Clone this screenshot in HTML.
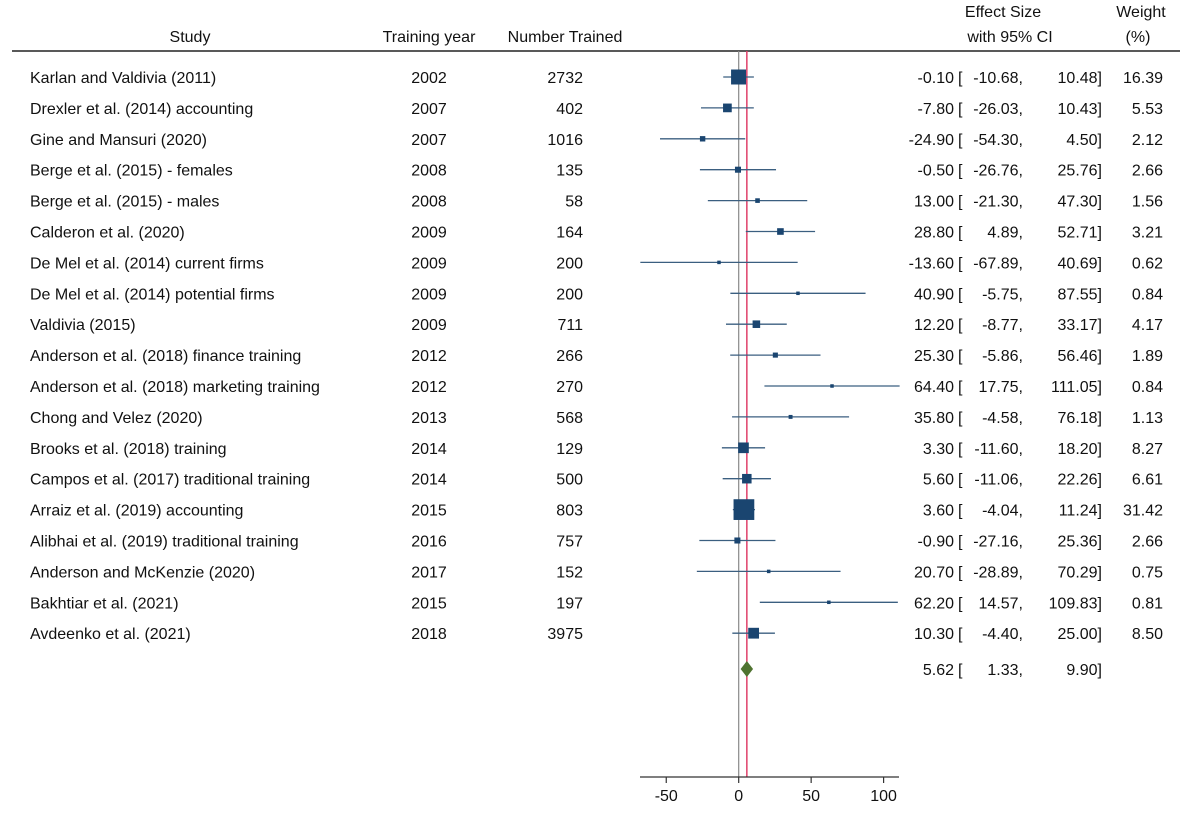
<!DOCTYPE html>
<html><head><meta charset="utf-8"><style>
body{margin:0;background:#fff;}
svg text{font-family:"Liberation Sans",sans-serif;font-size:16px;fill:#111;}
</style></head><body>
<svg id="chart" width="1189" height="808" xmlns="http://www.w3.org/2000/svg">
<g>
<text x="190" y="42" text-anchor="middle">Study</text>
<text x="429" y="42" text-anchor="middle">Training year</text>
<text x="565" y="42" text-anchor="middle">Number Trained</text>
<text x="1003" y="17" text-anchor="middle">Effect Size</text>
<text x="1010" y="42" text-anchor="middle">with 95% CI</text>
<text x="1141" y="17" text-anchor="middle">Weight</text>
<text x="1138" y="42" text-anchor="middle">(%)</text>
</g>
<line x1="12" y1="51" x2="1180" y2="51" stroke="#222" stroke-width="1.5"/>
<g id="rows"></g>
</svg>
<script>
const studies=["Karlan and Valdivia (2011)","Drexler et al. (2014) accounting","Gine and Mansuri (2020)","Berge et al. (2015) - females","Berge et al. (2015) - males","Calderon et al. (2020)","De Mel et al. (2014) current firms","De Mel et al. (2014) potential firms","Valdivia (2015)","Anderson et al. (2018) finance training","Anderson et al. (2018) marketing training","Chong and Velez (2020)","Brooks et al. (2018) training","Campos et al. (2017) traditional training","Arraiz et al. (2019) accounting","Alibhai et al. (2019) traditional training","Anderson and McKenzie (2020)","Bakhtiar et al. (2021)","Avdeenko et al. (2021)"];
const years=[2002,2007,2007,2008,2008,2009,2009,2009,2009,2012,2012,2013,2014,2014,2015,2016,2017,2015,2018];
const ns=[2732,402,1016,135,58,164,200,200,711,266,270,568,129,500,803,757,152,197,3975];
const effects=[-0.10,-7.80,-24.90,-0.50,13.00,28.80,-13.60,40.90,12.20,25.30,64.40,35.80,3.30,5.60,3.60,-0.90,20.70,62.20,10.30];
const lows=[-10.68,-26.03,-54.30,-26.76,-21.30,4.89,-67.89,-5.75,-8.77,-5.86,17.75,-4.58,-11.60,-11.06,-4.04,-27.16,-28.89,14.57,-4.40];
const highs=[10.48,10.43,4.50,25.76,47.30,52.71,40.69,87.55,33.17,56.46,111.05,76.18,18.20,22.26,11.24,25.36,70.29,109.83,25.00];
const weights=[16.39,5.53,2.12,2.66,1.56,3.21,0.62,0.84,4.17,1.89,0.84,1.13,8.27,6.61,31.42,2.66,0.75,0.81,8.50];
const overall=[5.62,1.33,9.90];
const ticks=[-50,0,50,100];
const NS="http://www.w3.org/2000/svg";
const X=v=>738.7+v*1.449;
const Y=i=>77+i*30.9;
const g=document.getElementById('rows');
function mk(tag,attrs,txt){const e=document.createElementNS(NS,tag);for(const k in attrs)e.setAttribute(k,attrs[k]);if(txt!==undefined)e.textContent=txt;g.appendChild(e);return e;}
const f=v=>v.toFixed(2);
let e;
e=mk('line',{x1:X(0),y1:51,x2:X(0),y2:777,stroke:'#888','stroke-width':1.2});


e=mk('line',{x1:X(overall[0]),y1:51,x2:X(overall[0]),y2:777,stroke:'#e0406a','stroke-width':1.5});


studies.forEach((s,i)=>{
 const y=Y(i);
 e=mk('text',{x:30,y:y+6},s);
 
 
 e=mk('text',{x:429,y:y+6,'text-anchor':'middle'},years[i]);
 
 
 e=mk('text',{x:583,y:y+6,'text-anchor':'end'},ns[i]);
 
 
 e=mk('line',{x1:X(lows[i]),y1:y,x2:X(highs[i]),y2:y,stroke:'#3b5f80','stroke-width':1.3});
 
 
 const sz=Math.max(3.5,3.7*Math.sqrt(weights[i]));
 e=mk('rect',{x:X(effects[i])-sz/2,y:y-sz/2,width:sz,height:sz,fill:'#1a4570'});
 
 
 e=mk('text',{x:954,y:y+6,'text-anchor':'end'},f(effects[i]));
 
 
 e=mk('text',{x:958,y:y+6},'[');
 
 
 e=mk('text',{x:1023,y:y+6,'text-anchor':'end'},f(lows[i])+',');
 
 
 e=mk('text',{x:1102,y:y+6,'text-anchor':'end'},f(highs[i])+']');
 
 
 e=mk('text',{x:1163,y:y+6,'text-anchor':'end'},f(weights[i]));
 
 
});
const oy=669;
e=mk('polygon',{points:`${X(overall[1])},${oy} ${X(overall[0])},${oy-8} ${X(overall[2])},${oy} ${X(overall[0])},${oy+8}`,fill:'#4f7330'});


e=mk('text',{x:954,y:oy+6,'text-anchor':'end'},f(overall[0]));


e=mk('text',{x:958,y:oy+6},'[');


e=mk('text',{x:1023,y:oy+6,'text-anchor':'end'},f(overall[1])+',');


e=mk('text',{x:1102,y:oy+6,'text-anchor':'end'},f(overall[2])+']');


e=mk('line',{x1:640,y1:777,x2:899,y2:777,stroke:'#333','stroke-width':1.2});


ticks.forEach(t=>{
 e=mk('line',{x1:X(t),y1:777,x2:X(t),y2:783,stroke:'#333','stroke-width':1.2});
 
 
 e=mk('text',{x:X(t),y:801,'text-anchor':'middle'},t);
 
 
});
</script>
</body></html>
